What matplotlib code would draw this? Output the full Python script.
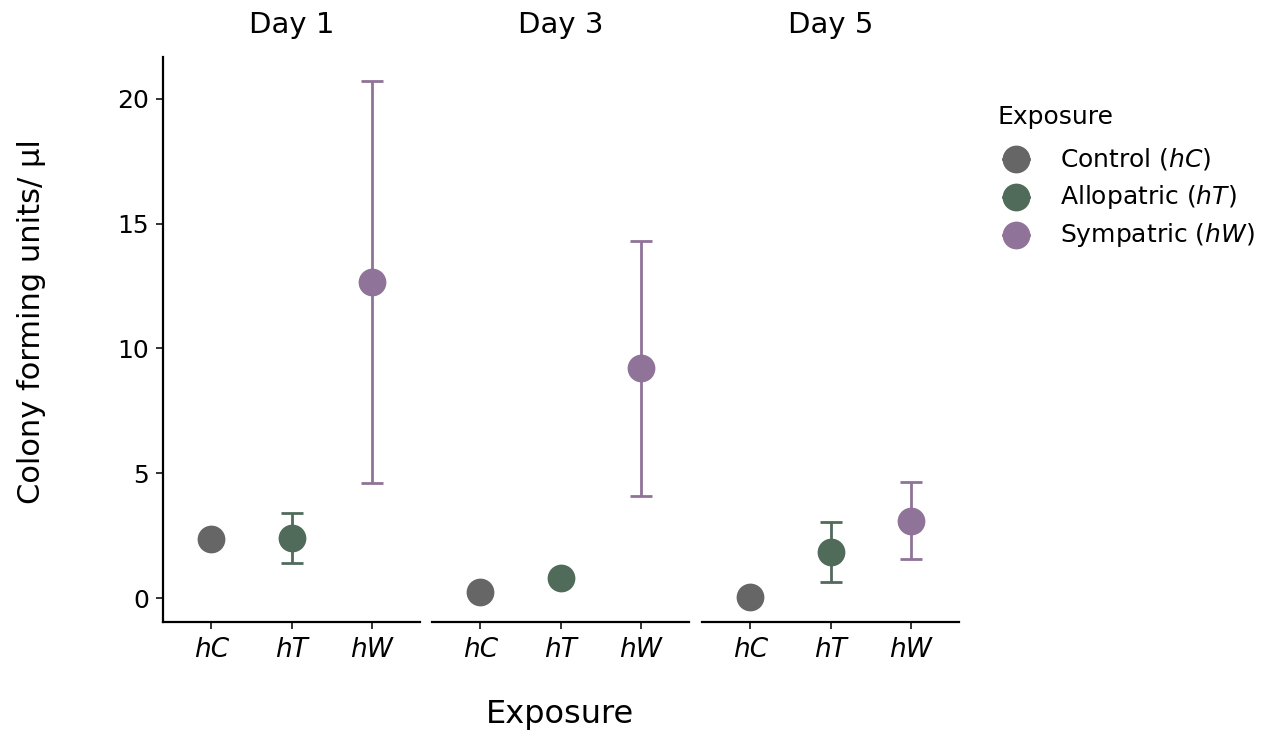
import matplotlib
matplotlib.use("Agg")
import matplotlib.pyplot as plt
from matplotlib.lines import Line2D

plt.rcParams['font.family'] = ['DejaVu Sans']
plt.rcParams['mathtext.fontset'] = 'custom'
plt.rcParams['mathtext.it'] = 'DejaVu Sans:italic'
plt.rcParams['mathtext.rm'] = 'DejaVu Sans'

days = ["Day 1", "Day 3", "Day 5"]
categories = ["hC", "hT", "hW"]
legend_labels = ["Control ($\\mathit{hC}$)", "Allopatric ($\\mathit{hT}$)", "Sympatric ($\\mathit{hW}$)"]
colors = ["#666666", "#516b5b", "#8f7398"]

means = [[2.35, 2.40, 12.65],
         [0.25, 0.80, 9.20],
         [0.05, 1.85, 3.10]]
lower = [[2.35, 1.40, 4.60],
         [0.25, 0.80, 4.10],
         [0.05, 0.65, 1.55]]
upper = [[2.35, 3.40, 20.70],
         [0.25, 0.80, 14.30],
         [0.05, 3.05, 4.65]]

W, H = 1286, 732
fig = plt.figure(figsize=(W / 100, H / 100), dpi=100)

panel_left = [163, 432, 702]
panel_w = 257
top, bottom = 57, 622
ylim = (-0.96, 21.68)

for i, day in enumerate(days):
    ax = fig.add_axes([panel_left[i] / W, (H - bottom) / H, panel_w / W, (bottom - top) / H])
    for j, cat in enumerate(categories):
        x = j + 1
        m, lo, hi = means[i][j], lower[i][j], upper[i][j]
        if hi - lo > 0.05:
            ax.errorbar([x], [m], yerr=[[m - lo], [hi - m]], fmt='none',
                        ecolor=colors[j], elinewidth=2, capsize=8, capthick=2, zorder=2)
        ax.plot([x], [m], 'o', color=colors[j], markersize=20, zorder=3,
                markeredgewidth=0)
    ax.set_xlim(0.4, 3.6)
    ax.set_ylim(*ylim)
    ax.set_xticks([1, 2, 3])
    ax.set_xticklabels(categories, fontstyle='italic', fontsize=19)
    ax.spines['top'].set_visible(False)
    ax.spines['right'].set_visible(False)
    ax.spines['bottom'].set_linewidth(1.6)
    ax.tick_params(axis='x', length=5, width=1.4, color='#333333', pad=6, labelcolor='black')
    if i == 0:
        ax.spines['left'].set_linewidth(1.6)
        ax.set_yticks([0, 5, 10, 15, 20])
        ax.tick_params(axis='y', length=5, width=1.4, color='#333333', labelsize=18, pad=5)
    else:
        ax.spines['left'].set_visible(False)
        ax.set_yticks([])
    ax.set_title(day, fontsize=21, pad=17)
    ax.set_facecolor('none')

fig.text(560 / W, 1 - 715 / H, "Exposure", ha='center', va='center', fontsize=23)
fig.text(32 / W, 1 - 322 / H, "Colony forming units/ µl", ha='center', va='center',
         rotation=90, fontsize=22)

# legend, drawn manually in figure pixel coordinates
fig.text(998 / W, 1 - 117 / H, "Exposure", ha='left', va='center', fontsize=18)
item_y = [159, 197, 235]
for c, lab, yy in zip(colors, legend_labels, item_y):
    fy = 1 - yy / H
    fig.add_artist(Line2D([1003 / W, 1029 / W], [fy, fy], color=c, linewidth=2,
                          transform=fig.transFigure))
    fig.add_artist(Line2D([1016 / W], [fy], color=c, marker='o', markersize=20,
                          markeredgewidth=0, linestyle='none', transform=fig.transFigure))
    fig.text(1060 / W, fy, lab, ha='left', va='center', fontsize=18)

fig.savefig("out.png", dpi=100)
